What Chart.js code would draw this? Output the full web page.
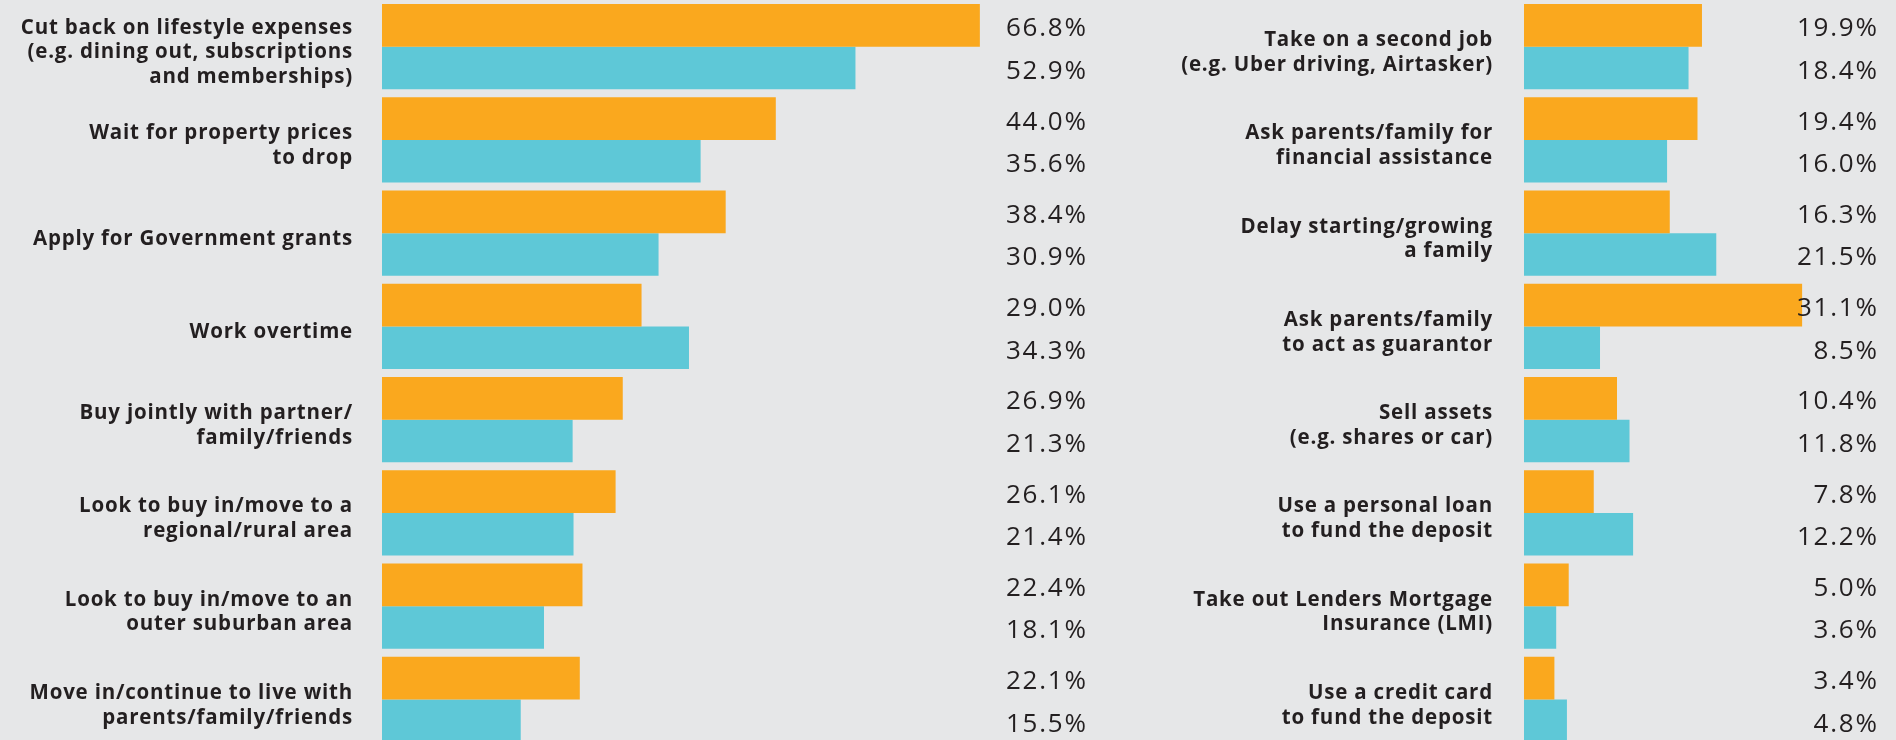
<!DOCTYPE html>
<html>
<head>
<meta charset="utf-8">
<script src="https://cdn.jsdelivr.net/npm/chart.js@4"></script>
<style>
  html, body { margin: 0; padding: 0; background: #E6E7E8; overflow: hidden; }
  body { width: 1896px; height: 740px; position: relative; }
  canvas { position: absolute; top: 0; }
  #left { left: 0; }
  #right { left: 1100px; }
</style>
</head>
<body>
<canvas id="left" width="1100" height="746"></canvas>
<canvas id="right" width="796" height="746"></canvas>
<script>
// Strategies, left column
const leftCategories = [
  ['Cut back on lifestyle expenses', '(e.g. dining out, subscriptions', 'and memberships)'],
  ['Wait for property prices', 'to drop'],
  ['Apply for Government grants'],
  ['Work overtime'],
  ['Buy jointly with partner/', 'family/friends'],
  ['Look to buy in/move to a', 'regional/rural area'],
  ['Look to buy in/move to an', 'outer suburban area'],
  ['Move in/continue to live with', 'parents/family/friends']
];
const leftOrange = [66.8, 44.0, 38.4, 29.0, 26.9, 26.1, 22.4, 22.1];
const leftTeal   = [52.9, 35.6, 30.9, 34.3, 21.3, 21.4, 18.1, 15.5];

// Strategies, right column
const rightCategories = [
  ['Take on a second job', '(e.g. Uber driving, Airtasker)'],
  ['Ask parents/family for', 'financial assistance'],
  ['Delay starting/growing', 'a family'],
  ['Ask parents/family', 'to act as guarantor'],
  ['Sell assets', '(e.g. shares or car)'],
  ['Use a personal loan', 'to fund the deposit'],
  ['Take out Lenders Mortgage', 'Insurance (LMI)'],
  ['Use a credit card', 'to fund the deposit']
];
const rightOrange = [19.9, 19.4, 16.3, 31.1, 10.4, 7.8, 5.0, 3.4];
const rightTeal   = [18.4, 16.0, 21.5, 8.5, 11.8, 12.2, 3.6, 4.8];

const ORANGE = '#FAA81E';
const TEAL = '#5EC8D7';
const TEXT = '#231F20';

// Slightly wider tracking for the category labels
const tracking = {
  id: 'tracking',
  beforeDraw(chart) { chart.ctx.letterSpacing = '0.8px'; },
  afterDraw(chart) { chart.ctx.letterSpacing = '0px'; }
};

// Percent figures printed in a column to the right of the bars
const valueLabels = {
  id: 'valueLabels',
  afterDatasetsDraw(chart, args, opts) {
    const ctx = chart.ctx;
    ctx.save();
    ctx.letterSpacing = '1.8px';
    ctx.font = '400 26px "Open Sans"';
    ctx.fillStyle = TEXT;
    ctx.textAlign = 'right';
    ctx.textBaseline = 'alphabetic';
    chart.data.datasets.forEach((ds, i) => {
      chart.getDatasetMeta(i).data.forEach((bar, j) => {
        ctx.fillText(ds.data[j].toFixed(1) + '%', opts.x + 1.8, bar.y + 11);
      });
    });
    ctx.restore();
  }
};

function makeChart(id, labels, orange, teal, axisWidth, labelPad, xMax, padRight, valueX) {
  return new Chart(document.getElementById(id), {
    type: 'bar',
    data: {
      labels: labels,
      datasets: [
        { data: orange, backgroundColor: ORANGE, borderWidth: 0 },
        { data: teal, backgroundColor: TEAL, borderWidth: 0 }
      ]
    },
    options: {
      indexAxis: 'y',
      responsive: false,
      animation: false,
      devicePixelRatio: 1,
      layout: { padding: { left: 0, right: padRight, top: 0, bottom: 0 } },
      datasets: { bar: { categoryPercentage: 0.915, barPercentage: 1.0 } },
      plugins: {
        legend: { display: false },
        tooltip: { enabled: false },
        valueLabels: { x: valueX }
      },
      scales: {
        x: { display: false, min: 0, max: xMax },
        y: {
          grid: { display: false, drawTicks: false },
          border: { display: false },
          afterFit(scale) {
            scale.width = axisWidth;
            scale.paddingTop = 0;
            scale.paddingBottom = 0;
          },
          ticks: {
            padding: labelPad,
            labelOffset: 6,
            color: TEXT,
            font: { family: '"Open Sans"', size: 20.5, weight: '700', lineHeight: 1.2 }
          }
        }
      }
    },
    plugins: [tracking, valueLabels]
  });
}

makeChart('left', leftCategories, leftOrange, leftTeal, 382, 29, 80, 2, 1086);
makeChart('right', rightCategories, rightOrange, rightTeal, 424, 31, 35, 59, 777);
</script>
</body>
</html>
